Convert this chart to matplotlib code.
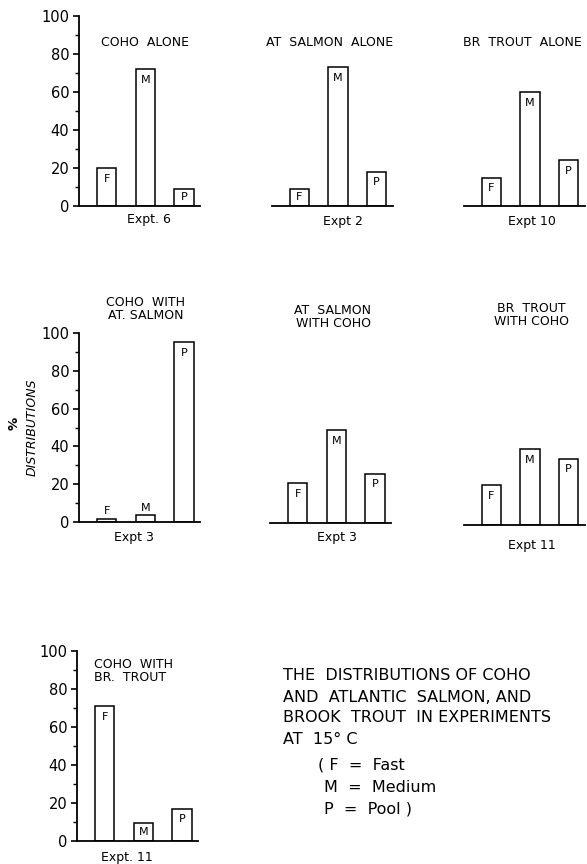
import matplotlib
matplotlib.use("Agg")
import matplotlib.pyplot as plt

plt.rcParams['font.family'] = ['DejaVu Sans']

categories = ["F", "M", "P"]
coho_alone = [20, 72, 9]
salmon_alone = [9, 73, 18]
trout_alone = [15, 60, 24]
coho_with_salmon = [1.5, 3.5, 95]
salmon_with_coho = [21, 49, 26]
trout_with_coho = [21, 40, 35]
coho_with_trout = [71, 9.5, 17]

yticks = [0, 20, 40, 60, 80, 100]

W, H = 587, 864
fig = plt.figure(figsize=(W / 100, H / 100), dpi=100)

XL = (-0.72, 2.41)
AXW = 121  # px


def make_ax(left_px, top_px, bottom_px):
    return fig.add_axes([left_px / W, 1 - bottom_px / H, AXW / W, (bottom_px - top_px) / H])


def panel(ax, vals, show_y):
    xs = range(len(categories))
    ax.bar(xs, vals, width=0.5, color="white", edgecolor="black", linewidth=1.1,
           zorder=2)
    for x, v, c in zip(xs, vals, categories):
        if v < 6:
            ax.annotate(c, (x, v), xytext=(0, 2), textcoords="offset points",
                        ha="center", va="bottom", fontsize=8)
        elif v < 14:
            ax.text(x, v / 2, c, ha="center", va="center", fontsize=8)
        else:
            ax.annotate(c, (x, v), xytext=(0, -4), textcoords="offset points",
                        ha="center", va="top", fontsize=8)
    ax.set_xlim(*XL)
    ax.set_ylim(0, 100)
    ax.set_xticks([])
    for s in ("top", "right"):
        ax.spines[s].set_visible(False)
    ax.spines["bottom"].set_linewidth(1.3)
    if show_y:
        ax.spines["left"].set_linewidth(1.3)
        ax.set_yticks(yticks)
        ax.set_yticks(range(10, 100, 20), minor=True)
        ax.tick_params(axis="y", which="major", direction="out", length=4,
                       width=1.2, labelsize=10.5, pad=3)
        ax.tick_params(axis="y", which="minor", direction="out", length=3,
                       width=1.0)
    else:
        ax.spines["left"].set_visible(False)
        ax.set_yticks([])
    ax.patch.set_alpha(0)


# Row 1
ax1 = make_ax(79, 16, 206)
panel(ax1, coho_alone, True)
ax2 = make_ax(271.5, 16, 206)
panel(ax2, salmon_alone, False)
ax3 = make_ax(463.5, 16, 206)
panel(ax3, trout_alone, False)

# Row 2
ax4 = make_ax(79, 333, 522)
panel(ax4, coho_with_salmon, True)
ax5 = make_ax(270, 334, 523)
panel(ax5, salmon_with_coho, False)
ax6 = make_ax(463.5, 336, 525)
panel(ax6, trout_with_coho, False)

# Row 3
ax7 = make_ax(77, 651, 841)
panel(ax7, coho_with_trout, True)


def ftext(x, y, s, **kw):
    fig.text(x / W, 1 - y / H, s, **kw)


tkw = dict(fontsize=9, ha="center", va="center")
ftext(145, 42, "COHO  ALONE", **tkw)
ftext(330, 42, "AT  SALMON  ALONE", **tkw)
ftext(522, 42, "BR  TROUT  ALONE", **tkw)
ftext(146, 309, "COHO  WITH\nAT. SALMON", linespacing=1.0, **tkw)
ftext(333, 317, "AT  SALMON\nWITH COHO", linespacing=1.0, **tkw)
ftext(531, 315, "BR  TROUT\nWITH COHO", linespacing=1.0, **tkw)
ftext(94, 671, "COHO  WITH\nBR.  TROUT", fontsize=9, ha="left", va="center",
      linespacing=1.0)

ekw = dict(fontsize=9, ha="center", va="center")
ftext(149, 220, "Expt. 6", **ekw)
ftext(343, 221, "Expt 2", **ekw)
ftext(532, 221, "Expt 10", **ekw)
ftext(134, 538, "Expt 3", **ekw)
ftext(337, 538, "Expt 3", **ekw)
ftext(532, 545, "Expt 11", **ekw)
ftext(127, 857, "Expt. 11", **ekw)

ftext(14, 423, "%", fontsize=9.5, ha="center", va="center", rotation=90,
      fontweight="bold")
ftext(32, 427, "DISTRIBUTIONS", fontsize=9, ha="center", va="center",
      rotation=90, style="italic")

bkw = dict(fontsize=11.5, ha="left", va="center")
ftext(283, 676, "THE  DISTRIBUTIONS OF COHO", **bkw)
ftext(283, 697, "AND  ATLANTIC  SALMON, AND", **bkw)
ftext(283, 718, "BROOK  TROUT  IN EXPERIMENTS", **bkw)
ftext(283, 739, "AT  15° C", **bkw)
ftext(318, 765, "( F  =  Fast", **bkw)
ftext(324, 787, "M  =  Medium", **bkw)
ftext(324, 809, "P  =  Pool )", **bkw)

fig.savefig("out.png", dpi=100)
